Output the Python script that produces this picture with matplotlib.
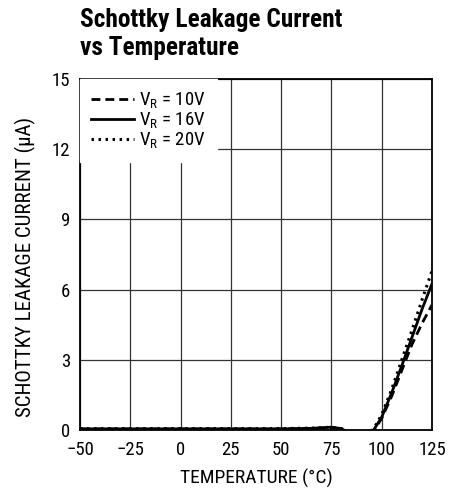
import matplotlib
matplotlib.use("Agg")
import matplotlib.pyplot as plt
from matplotlib import font_manager as fm

names = {f.name for f in fm.fontManager.ttflist}
fam = 'Liberation Sans'
for cand in ['Liberation Sans Narrow', 'Roboto Condensed', 'Open Sans Condensed']:
    if cand in names:
        fam = cand
        break
plt.rcParams['font.family'] = [fam, 'DejaVu Sans']
plt.rcParams['mathtext.fontset'] = 'custom'
plt.rcParams['mathtext.rm'] = fam

# Data
temp_low = [-50, -25, 0, 25, 50, 65, 75, 80, 83, 88, 93]
temp_high = [96, 100, 105, 110, 115, 120, 125]

vr10_low = [0.04, 0.04, 0.04, 0.04, 0.04, 0.06, 0.1, 0.05, -0.1, -0.3, -0.2]
vr16_low = [0.05, 0.05, 0.05, 0.05, 0.05, 0.07, 0.12, 0.06, -0.1, -0.3, -0.2]
vr20_low = [0.06, 0.06, 0.06, 0.06, 0.06, 0.08, 0.12, 0.06, -0.1, -0.3, -0.2]

vr10_high = [-0.05, 0.5, 1.45, 2.55, 3.65, 4.55, 5.35]
vr16_high = [0.0, 0.55, 1.6, 2.75, 3.95, 5.15, 6.25]
vr20_high = [0.05, 0.65, 1.75, 3.0, 4.25, 5.55, 6.8]

labels = [r'V$_\mathregular{R}$ = 10V', r'V$_\mathregular{R}$ = 16V', r'V$_\mathregular{R}$ = 20V']
xticks = [-50, -25, 0, 25, 50, 75, 100, 125]
xticklabels = ['\u221250', '\u221225', '0', '25', '50', '75', '100', '125']
yticks = [0, 3, 6, 9, 12, 15]

fig = plt.figure(figsize=(4.62, 4.92), dpi=100)
ax = fig.add_axes([80/462, 1-430/492, 352/462, 351/492])

styles = [dict(ls=(0, (3.2, 1.8)), lw=2.0), dict(ls='-', lw=2.0), dict(ls=(0, (0.8, 1.5)), lw=2.2)]
for lo, hi, lab, st in zip([vr10_low, vr16_low, vr20_low],
                           [vr10_high, vr16_high, vr20_high], labels, styles):
    ax.plot(temp_low + temp_high, lo + hi, color='black', label=lab, **st)

ax.set_xlim(-50, 125)
ax.set_ylim(0, 15)
ax.set_xticks(xticks)
ax.set_xticklabels(xticklabels)
ax.set_yticks(yticks)
ax.grid(True, color='#333333', lw=0.9)
ax.tick_params(axis='x', length=0, labelsize=13.5, pad=8, colors='black')
ax.tick_params(axis='y', length=0, labelsize=13.5, pad=7, colors='black')
for s in ax.spines.values():
    s.set_linewidth(1.3)
ax.set_xlabel('TEMPERATURE (\u00b0C)', fontsize=14, labelpad=7)
ax.set_ylabel('SCHOTTKY LEAKAGE CURRENT (\u00b5A)', fontsize=15)
ax.yaxis.set_label_coords(-44/352, 0.465)

leg = ax.legend(loc='upper left', frameon=True, fontsize=13.5, handlelength=2.3,
                handletextpad=0.25, borderaxespad=0.0, borderpad=0.6, labelspacing=0.0,
                fancybox=False)
leg.get_frame().set_edgecolor('white')
leg.get_frame().set_facecolor('white')
leg.get_frame().set_alpha(1)

fig.text(80/462, 1-8/492, 'Schottky Leakage Current\nvs Temperature', fontsize=18.3,
         fontweight='bold', ha='left', va='top', linespacing=1.2)

fig.savefig('out.png', dpi=100)
